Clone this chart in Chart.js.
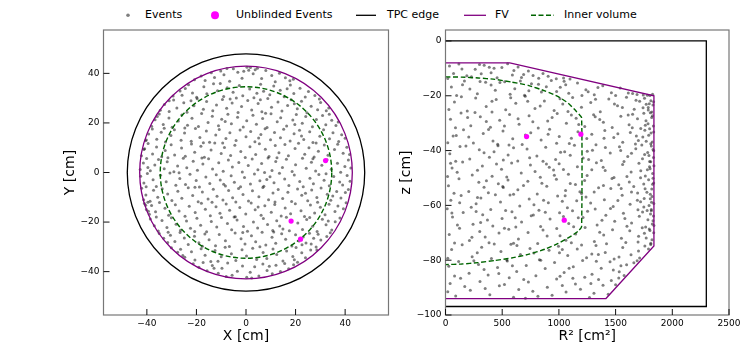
<!DOCTYPE html>
<html>
<head>
<meta charset="utf-8">
<script src="https://cdn.jsdelivr.net/npm/chart.js@4.4.1/dist/chart.umd.min.js"></script>
<style>
  body { margin: 0; background: #fff; width: 747px; height: 349px; overflow: hidden; position: relative; }
  canvas { position: absolute; top: 0; }
  #left { left: 0; }
  #right { left: 380px; }
  #legend { position: absolute; left: 0; top: 0; }
  #legend text { font: 11px 'DejaVu Sans', sans-serif; fill: #000; }
</style>
</head>
<body>
<svg id="legend" width="747" height="30">
  <circle cx="128" cy="15.3" r="1.8" fill="rgba(0,0,0,0.5)"></circle>
  <text x="145" y="18">Events</text>
  <circle cx="215" cy="15.3" r="4" fill="#ff00ff"></circle>
  <text x="236" y="18">Unblinded Events</text>
  <line x1="356" y1="15.3" x2="376" y2="15.3" stroke="#000" stroke-width="1.3"></line>
  <text x="387" y="18">TPC edge</text>
  <line x1="464" y1="15.3" x2="486" y2="15.3" stroke="#800080" stroke-width="1.3"></line>
  <text x="495" y="18">FV</text>
  <line x1="531" y1="15.3" x2="554" y2="15.3" stroke="#006400" stroke-width="1.4" stroke-dasharray="5,2.5"></line>
  <text x="564" y="18">Inner volume</text>
</svg>
<canvas id="left" width="395" height="349"></canvas>
<canvas id="right" width="367" height="349"></canvas>
<script>
// ---- left panel: X / Y of events [cm]
const eventsXY = [
[-20.8,37.4],[-18.1,38.9],[-16.5,37.1],[-14.0,40.2],[-12.7,38.3],[-10.2,41.0],[-8.9,39.4],[-6.6,36.8],[-5.1,41.9],[-3.3,40.5],[-1.6,38.0],[0.4,42.5],[1.1,41.3],[1.8,42.4],[2.9,39.8],[4.6,42.1],[6.3,37.9],[8.0,41.2],[10.4,39.1],[11.8,36.6],[13.5,40.0],[15.9,38.2],[17.7,37.0],[19.1,37.6],[-0.9,40.9],[3.7,41.5],[-7.7,42.0],
[-29.4,30.9],[-26.6,32.9],[-25.8,31.2],[-23.2,35.4],[-21.6,32.1],[-19.9,30.4],[-17.0,34.6],[-15.8,31.8],[-13.1,35.8],[-11.5,33.0],[-9.0,30.7],[-7.6,34.2],[-5.2,32.4],[-2.7,35.1],[-1.3,31.0],[1.5,33.7],[3.2,30.2],[5.9,35.6],[7.1,32.8],[9.6,31.4],[11.2,34.9],[13.8,33.2],[15.4,30.6],[17.9,35.3],[19.3,31.9],[21.8,34.0],[23.9,30.5],[25.2,32.7],[27.8,31.1],[-24.5,33.9],[-10.4,35.9],[4.4,32.0],[16.6,33.8],[-3.9,30.1],
[-34.6,25.1],[-32.9,27.4],[-31.0,24.6],[-29.2,29.3],[-27.9,26.0],[-25.1,28.1],[-23.8,24.3],[-21.0,26.9],[-19.7,29.8],[-17.2,25.5],[-15.9,28.6],[-13.4,24.9],[-11.9,27.2],[-9.5,29.5],[-7.8,25.9],[-5.6,28.0],[-3.2,24.2],[-1.8,26.6],[0.7,29.1],[2.3,25.2],[4.9,27.8],[6.4,24.5],[8.8,29.9],[10.3,26.3],[12.9,28.4],[14.5,24.8],[16.8,27.0],[18.2,29.4],[20.7,25.7],[22.4,28.8],[24.6,24.1],[26.3,26.7],[28.9,25.3],[30.1,28.2],[32.4,24.9],[33.4,26.0],[-31.0,29.0],[-22.2,29.0],[-6.4,29.7],[5.8,29.4],[19.5,27.7],[29.6,29.7],
[-38.1,18.7],[-36.7,21.3],[-35.0,23.6],[-33.4,19.4],[-31.1,22.0],[-29.8,18.3],[-27.3,20.8],[-25.9,23.2],[-23.6,19.1],[-21.8,21.9],[-19.2,18.6],[-17.9,23.8],[-15.3,20.2],[-13.6,22.7],[-11.1,18.9],[-9.8,21.5],[-7.3,23.5],[-5.9,19.7],[-3.4,22.3],[-1.1,18.4],[0.3,20.9],[2.8,23.1],[4.2,19.5],[6.7,21.8],[8.5,18.2],[10.1,23.7],[12.6,20.5],[14.0,22.1],[16.4,18.8],[18.9,21.2],[20.3,23.4],[22.7,19.9],[24.1,22.6],[26.8,18.5],[28.4,21.4],[30.9,23.0],[32.2,19.3],[34.6,21.1],[36.3,19.0],[37.2,20.4],[-35.8,22.6],[-24.7,18.0],[-8.4,20.6],[7.9,23.9],[19.7,19.4],[33.6,23.5],
[-40.6,12.8],[-39.3,15.5],[-37.8,17.6],[-36.0,13.4],[-34.2,16.2],[-32.5,12.3],[-30.3,14.9],[-28.9,17.3],[-26.2,13.0],[-24.8,15.9],[-22.1,12.6],[-20.4,17.8],[-18.6,14.1],[-16.0,16.7],[-14.7,12.2],[-12.2,15.1],[-10.8,17.4],[-8.1,13.7],[-6.5,16.0],[-4.0,12.9],[-2.4,17.1],[0.0,14.4],[1.9,16.5],[3.6,12.4],[6.0,15.3],[7.7,17.7],[9.9,13.2],[11.5,16.1],[13.9,14.0],[15.2,17.5],[17.8,12.7],[19.4,15.6],[21.6,17.0],[23.3,13.3],[25.7,16.4],[27.0,12.1],[29.8,14.6],[31.3,17.2],[33.7,13.6],[35.1,16.0],[37.4,12.5],[38.6,15.2],[40.0,13.8],[-40.2,13.1],[-33.0,17.9],[-17.2,12.0],[5.1,13.9],[22.4,14.7],
[-42.2,6.8],[-40.9,9.6],[-39.5,11.7],[-37.7,7.5],[-36.1,10.3],[-34.0,6.4],[-32.6,8.9],[-30.2,11.2],[-28.8,7.1],[-26.0,9.9],[-24.5,6.6],[-22.0,11.5],[-20.7,8.2],[-18.2,10.6],[-16.8,6.2],[-14.1,9.1],[-12.6,11.9],[-10.0,7.7],[-8.7,10.1],[-6.2,6.9],[-4.5,11.0],[-2.1,8.5],[-0.3,6.1],[1.6,10.4],[3.9,7.3],[5.4,11.6],[7.8,9.4],[9.3,6.5],[11.8,10.9],[13.3,8.0],[15.7,11.3],[17.1,6.8],[19.8,9.7],[21.2,11.8],[23.7,7.4],[25.4,10.0],[27.5,6.3],[29.2,8.6],[31.6,11.1],[33.1,7.0],[35.7,9.3],[37.0,11.4],[39.2,7.8],[40.7,10.2],[41.8,7.3],[-41.2,9.3],[-31.5,6.0],[-9.4,11.9],[12.5,6.0],[28.3,11.9],
[-42.7,1.2],[-41.4,3.8],[-40.1,5.6],[-38.6,0.7],[-36.8,3.0],[-35.3,5.2],[-33.0,1.5],[-31.8,4.3],[-29.1,0.3],[-27.6,2.6],[-25.3,5.8],[-23.9,1.9],[-21.3,4.5],[-19.6,0.9],[-17.4,3.4],[-15.1,5.5],[-13.5,1.4],[-11.0,3.9],[-9.2,0.5],[-7.1,5.0],[-5.5,2.2],[-2.9,4.0],[-1.5,0.2],[0.9,2.8],[2.5,5.4],[4.8,1.1],[6.3,3.6],[8.9,5.9],[10.5,0.8],[12.0,4.4],[14.7,2.0],[16.3,5.3],[18.6,0.4],[20.0,3.1],[22.8,5.7],[24.3,1.7],[26.4,4.1],[28.1,0.6],[30.6,2.9],[32.7,5.1],[34.4,1.3],[36.9,3.7],[38.2,0.1],[39.9,2.4],[41.3,5.0],[42.3,1.8],[-39.6,2.0],[-17.8,5.9],[7.5,0.0],[27.0,5.5],
[-42.5,-1.5],[-41.2,-4.2],[-39.8,-0.4],[-37.5,-2.9],[-36.2,-5.6],[-34.5,-1.1],[-32.2,-3.7],[-30.7,-0.2],[-28.3,-5.1],[-26.7,-2.4],[-24.4,-4.8],[-22.6,-0.7],[-20.1,-3.2],[-18.8,-5.9],[-16.2,-1.8],[-14.6,-4.4],[-12.0,-0.9],[-10.4,-3.0],[-8.3,-5.4],[-6.0,-1.3],[-4.7,-3.9],[-2.2,-5.8],[-0.6,-2.0],[1.8,-4.6],[3.4,-0.6],[5.6,-3.3],[7.2,-5.5],[9.7,-1.7],[11.3,-4.1],[13.5,-0.3],[15.6,-2.6],[17.3,-5.2],[19.5,-1.0],[21.7,-3.6],[23.1,-5.7],[25.8,-2.3],[27.2,-4.5],[29.4,-0.8],[31.5,-3.1],[33.6,-5.3],[35.4,-1.6],[37.8,-3.8],[39.0,-5.0],[40.8,-1.2],[42.0,-3.5],[-40.3,-5.7],[-27.0,-0.1],[-9.0,-4.7],[8.4,-2.8],[32.3,-0.5],
[-42.1,-6.4],[-40.4,-9.1],[-38.7,-11.6],[-37.3,-7.2],[-35.6,-10.0],[-33.8,-6.6],[-31.6,-8.7],[-29.9,-11.3],[-27.5,-7.6],[-25.9,-10.4],[-23.3,-6.2],[-21.5,-9.3],[-19.3,-11.8],[-17.6,-7.9],[-15.3,-10.7],[-13.2,-6.8],[-11.7,-9.6],[-9.3,-11.1],[-7.0,-7.3],[-5.4,-10.2],[-3.0,-6.5],[-1.2,-8.9],[1.0,-11.5],[2.6,-7.4],[5.2,-9.8],[6.8,-6.1],[9.1,-11.0],[10.9,-8.3],[13.0,-6.9],[14.8,-10.5],[16.9,-8.0],[18.4,-11.7],[20.8,-6.7],[22.5,-9.2],[24.9,-11.4],[26.5,-7.1],[28.6,-10.1],[30.3,-6.3],[32.8,-8.8],[34.2,-11.2],[36.6,-7.7],[38.3,-10.3],[40.1,-8.1],[41.3,-6.9],[-41.3,-11.0],[-20.6,-6.0],[-4.1,-11.9],[11.7,-11.9],[24.0,-8.4],[35.0,-9.5],
[-41.0,-12.5],[-40.2,-14.9],[-39.0,-16.8],[-38.1,-13.3],[-36.5,-15.8],[-34.9,-12.1],[-32.7,-14.4],[-31.2,-17.3],[-28.5,-13.0],[-27.0,-15.5],[-24.6,-17.7],[-22.9,-13.6],[-20.5,-16.1],[-18.0,-12.4],[-16.4,-14.8],[-14.4,-17.5],[-12.1,-13.8],[-10.5,-16.4],[-8.0,-12.7],[-6.6,-15.2],[-4.3,-17.9],[-2.5,-14.1],[-0.1,-16.7],[2.1,-12.3],[3.7,-15.0],[6.1,-17.2],[7.6,-13.4],[10.2,-16.0],[11.6,-12.9],[14.2,-17.6],[15.8,-14.3],[18.0,-16.6],[19.9,-12.6],[22.2,-15.4],[23.6,-17.8],[26.0,-13.1],[27.7,-16.3],[30.0,-14.0],[31.9,-17.0],[33.5,-12.8],[35.9,-15.7],[37.1,-13.5],[39.3,-14.6],[40.4,-12.2],[-39.4,-15.6],[-39.6,-12.0],[-40.5,-13.2],[-13.7,-12.0],[4.9,-13.9],[28.9,-12.0],
[-38.6,-18.8],[-37.0,-21.5],[-35.4,-23.6],[-33.9,-19.4],[-31.9,-22.2],[-30.1,-18.3],[-28.2,-20.9],[-26.4,-23.3],[-24.0,-19.6],[-22.4,-22.5],[-19.8,-18.5],[-18.3,-21.3],[-15.9,-23.9],[-14.0,-19.8],[-11.8,-22.0],[-9.9,-18.2],[-7.5,-20.6],[-5.8,-23.1],[-3.6,-19.2],[-1.0,-21.8],[0.6,-23.7],[3.0,-20.0],[4.7,-22.4],[7.0,-18.6],[8.7,-21.0],[10.8,-23.4],[12.4,-19.5],[14.9,-22.8],[16.3,-18.1],[20.9,-20.4],[22.8,-23.0],[24.5,-19.0],[26.9,-21.7],[28.7,-23.8],[30.8,-18.9],[32.3,-21.1],[34.6,-23.2],[36.0,-19.9],[37.9,-18.4],[-36.2,-18.0],[-20.7,-23.8],[-4.8,-18.0],[13.6,-21.6],[25.7,-18.2],[33.2,-19.6],[17.5,-23.5],
[-35.0,-24.6],[-33.2,-26.5],[-31.6,-28.2],[-30.5,-25.3],[-28.7,-27.8],[-26.6,-24.2],[-24.9,-26.4],[-23.3,-29.1],[-20.8,-25.7],[-19.0,-28.3],[-16.6,-24.8],[-14.9,-27.1],[-12.3,-29.6],[-10.8,-25.0],[-8.3,-27.5],[-6.7,-29.9],[-4.4,-24.4],[-2.0,-26.7],[-0.4,-28.9],[2.2,-25.5],[3.9,-27.9],[6.5,-24.1],[8.0,-29.3],[10.5,-26.1],[12.0,-28.5],[14.4,-24.7],[16.0,-26.9],[18.5,-29.7],[20.0,-25.1],[21.4,-27.6],[23.1,-26.0],[24.2,-28.4],[25.6,-24.5],[27.3,-26.5],[29.1,-24.9],[30.2,-27.2],[32.6,-25.8],[34.0,-24.3],[-31.4,-24.1],[-17.6,-29.8],[-1.3,-24.2],[11.2,-24.0],[26.3,-28.9],[22.6,-29.2],
[-30.1,-30.4],[-27.6,-32.2],[-26.4,-31.0],[-24.7,-34.2],[-22.0,-32.0],[-20.6,-35.3],[-18.1,-30.8],[-16.5,-33.4],[-14.2,-35.9],[-12.5,-31.5],[-10.0,-34.0],[-8.4,-30.2],[-5.9,-32.8],[-4.1,-35.5],[-1.6,-31.2],[0.2,-33.7],[2.7,-30.6],[4.3,-35.1],[6.9,-32.3],[8.4,-34.7],[10.9,-30.9],[12.4,-33.1],[14.9,-35.7],[16.4,-31.7],[18.9,-33.9],[20.2,-30.3],[22.5,-32.4],[24.0,-34.4],[26.1,-31.3],[28.3,-30.1],[28.6,-31.3],[-25.5,-33.5],[-11.3,-35.8],[5.6,-30.0],[19.5,-35.2],
[-21.3,-36.8],[-19.0,-38.2],[-17.3,-36.3],[-15.7,-39.6],[-13.6,-37.5],[-11.2,-40.7],[-9.7,-38.6],[-7.4,-36.5],[-5.6,-41.5],[-3.5,-39.8],[-1.4,-37.7],[0.3,-42.3],[1.7,-40.2],[3.5,-38.0],[5.2,-41.8],[6.8,-36.9],[8.5,-39.5],[10.6,-40.9],[12.1,-37.4],[13.9,-39.9],[15.6,-36.7],[17.2,-38.8],[19.2,-37.2],[20.8,-36.2],[-8.0,-42.0],[2.3,-42.6],[-12.9,-38.6],[9.4,-37.8]
];
const unblindedXY = [[32.1, 4.8], [18.2, -19.6], [22.0, -26.9]];
// TPC edge, FV, inner volume radii [cm]
const circleRadii = [47.9, 42.9, 34.6];

// ---- right panel: R^2 [cm^2] / z [cm]
const eventsR2z = [
[35,-9.1],[118,-8.4],[262,-10.3],[188,-12.7],[341,-8.9],[402,-11.6],[497,-9.7],[455,-13.4],[603,-10.8],[548,-8.3],[689,-12.2],[731,-11.0],[822,-13.6],[905,-12.9],[977,-13.8],[1041,-13.5],[640,-9.5],[71,-11.9],[229,-13.1],[315,-12.0],[386,-9.6],[590,-12.4],[772,-12.6],[145,-10.2],[860,-11.9],[428,-10.0],[1098,-13.9],[20,-13.7],[670,-13.3],[300,-8.6],
[52,-16.8],[167,-14.6],[281,-19.3],[354,-15.1],[439,-18.0],[522,-14.9],[611,-17.4],[697,-19.8],[758,-15.6],[846,-18.6],[933,-14.4],[1012,-16.9],[1087,-19.1],[1164,-15.3],[1238,-17.8],[1312,-19.6],[1387,-16.3],[1463,-18.9],[1541,-17.2],[1612,-19.0],[1689,-19.5],[1744,-19.7],[1803,-19.9],[1826,-19.4],[98,-19.9],[215,-17.5],[402,-16.1],[570,-19.4],[889,-16.7],[1046,-14.7],[1203,-19.9],[1344,-17.0],[1500,-19.9],[735,-18.2],[1650,-19.2],[1780,-19.8],[480,-15.2],[980,-18.4],
[79,-22.3],[192,-25.6],[266,-20.8],[359,-23.9],[447,-21.4],[531,-25.1],[620,-22.7],[703,-20.2],[789,-24.6],[872,-21.9],[958,-25.4],[1034,-23.0],[1121,-20.6],[1199,-24.2],[1281,-22.5],[1365,-25.8],[1440,-21.2],[1517,-23.6],[1596,-20.5],[1664,-24.9],[1712,-22.0],[1755,-20.9],[1788,-25.2],[1811,-21.8],[1829,-23.4],[1797,-22.9],[1742,-24.4],[1680,-21.6],[1820,-25.9],[30,-25.0],[140,-20.4],[410,-25.9],[575,-20.7],[835,-23.7],[1080,-25.7],[1323,-21.3],[1560,-24.3],[1770,-23.1],[1835,-22.2],
[44,-28.6],[137,-26.3],[223,-30.9],[307,-27.7],[396,-31.5],[478,-28.9],[565,-26.8],[649,-30.4],[737,-27.3],[818,-31.8],[901,-29.2],[985,-26.5],[1066,-30.0],[1152,-28.2],[1228,-31.2],[1306,-26.9],[1392,-29.7],[1470,-31.6],[1546,-27.5],[1619,-30.6],[1693,-28.4],[1749,-26.4],[1786,-30.2],[1818,-27.9],[1833,-31.0],[1768,-29.1],[1722,-31.9],[1806,-26.2],[88,-31.7],[260,-26.1],[520,-31.0],[770,-29.5],[1110,-27.0],[1360,-28.7],[1650,-26.7],[1800,-32.0],[360,-29.4],[940,-27.9],
[67,-34.7],[159,-32.4],[246,-37.2],[333,-33.8],[419,-36.5],[507,-32.9],[593,-35.7],[676,-37.8],[752,-33.5],[843,-36.1],[918,-32.2],[1003,-34.9],[1092,-37.4],[1168,-33.1],[1246,-35.6],[1327,-37.9],[1405,-32.7],[1484,-35.2],[1563,-37.0],[1630,-33.4],[1701,-36.3],[1758,-32.6],[1792,-34.4],[1823,-36.9],[1836,-33.2],[1810,-37.5],[1740,-35.0],[1675,-37.6],[20,-37.1],[205,-35.0],[460,-37.7],[705,-34.3],[980,-37.3],[1290,-34.0],[1520,-33.9],[1770,-36.6],[1110,-35.5],[380,-32.3],
[38,-41.2],[128,-38.5],[214,-43.1],[298,-39.7],[387,-42.4],[463,-38.2],[552,-41.6],[637,-43.8],[719,-39.4],[806,-42.0],[884,-38.8],[971,-43.3],[1051,-40.4],[1137,-38.1],[1214,-42.7],[1296,-39.9],[1374,-43.6],[1453,-40.9],[1534,-38.6],[1607,-42.2],[1678,-39.3],[1737,-43.0],[1783,-40.7],[1815,-38.3],[1834,-42.5],[1800,-44.0],[1756,-41.4],[90,-43.9],[340,-40.8],[600,-39.0],[860,-43.9],[1100,-41.7],[1410,-38.9],[1640,-41.0],[1830,-39.6],[510,-43.4],[1250,-40.2],
[58,-46.4],[151,-44.2],[236,-48.9],[325,-45.6],[411,-49.4],[494,-46.8],[583,-44.5],[668,-48.2],[749,-45.3],[836,-49.7],[915,-46.1],[1002,-44.8],[1084,-48.6],[1163,-45.9],[1249,-49.1],[1331,-44.4],[1408,-47.3],[1486,-49.8],[1562,-45.1],[1637,-47.8],[1706,-44.6],[1762,-49.3],[1804,-46.6],[1827,-48.4],[1838,-45.5],[1780,-47.0],[1720,-49.9],[18,-49.5],[282,-47.2],[540,-49.6],[790,-47.6],[1040,-46.9],[1290,-47.0],[1600,-49.5],[1810,-44.1],[450,-44.9],[960,-49.0],
[26,-52.8],[119,-50.3],[205,-54.9],[294,-51.6],[378,-55.4],[466,-52.1],[551,-50.7],[638,-54.3],[726,-51.2],[809,-55.8],[893,-53.0],[978,-50.5],[1059,-54.6],[1146,-52.4],[1227,-50.9],[1311,-55.1],[1393,-52.7],[1468,-50.2],[1549,-53.8],[1621,-51.5],[1694,-55.5],[1748,-52.2],[1791,-50.6],[1819,-54.0],[1836,-51.8],[1806,-55.9],[1760,-53.9],[75,-55.6],[340,-53.4],[600,-55.9],[850,-51.9],[1100,-52.0],[1350,-53.6],[1660,-53.1],[1830,-50.1],[510,-53.5],[1200,-55.7],
[47,-58.1],[138,-56.4],[227,-60.7],[312,-57.3],[399,-61.5],[485,-58.8],[569,-56.2],[655,-60.2],[738,-57.7],[824,-61.8],[907,-59.0],[989,-56.6],[1075,-60.9],[1157,-58.3],[1239,-56.9],[1320,-61.3],[1401,-57.9],[1479,-60.4],[1558,-56.3],[1628,-59.6],[1697,-61.6],[1752,-57.5],[1795,-60.0],[1822,-56.8],[1837,-59.3],[1778,-61.9],[1720,-58.7],[15,-61.2],[270,-59.4],[530,-61.9],[780,-59.8],[1030,-58.5],[1280,-59.1],[1520,-58.2],[1815,-61.5],[440,-56.1],[1120,-62.0],
[62,-64.2],[156,-62.6],[243,-66.9],[328,-63.4],[417,-67.5],[499,-64.8],[586,-62.3],[671,-66.1],[756,-63.8],[839,-67.7],[922,-65.0],[1006,-62.7],[1087,-66.6],[1171,-64.5],[1253,-62.1],[1337,-67.2],[1414,-63.6],[1492,-65.8],[1569,-62.9],[1641,-66.4],[1709,-64.0],[1765,-67.9],[1808,-63.1],[1830,-65.6],[1838,-67.3],[1785,-65.2],[1738,-62.4],[105,-67.2],[370,-65.3],[620,-67.9],[880,-62.5],[1130,-67.8],[1380,-65.4],[1600,-67.6],[1815,-62.0],[270,-62.2],[1040,-64.1],
[33,-70.6],[124,-68.3],[211,-72.8],[302,-69.5],[384,-73.6],[472,-70.1],[558,-68.7],[643,-72.3],[728,-69.9],[813,-73.9],[896,-71.2],[981,-68.4],[1062,-72.7],[1148,-70.4],[1231,-68.1],[1313,-73.2],[1395,-70.8],[1473,-68.9],[1551,-72.0],[1625,-69.3],[1698,-73.4],[1754,-70.2],[1797,-68.6],[1821,-72.5],[1836,-70.0],[1810,-73.8],[1770,-71.9],[80,-73.7],[350,-71.5],[600,-73.8],[860,-69.0],[1110,-73.6],[1360,-69.8],[1590,-73.5],[1735,-68.2],[520,-68.3],[1010,-71.1],
[54,-76.1],[147,-74.4],[235,-78.7],[319,-75.3],[405,-79.4],[489,-76.8],[577,-74.2],[661,-77.9],[745,-75.7],[828,-79.8],[913,-76.4],[996,-74.9],[1078,-78.3],[1162,-75.9],[1244,-79.1],[1327,-74.6],[1409,-77.2],[1487,-79.6],[1563,-75.4],[1636,-78.0],[1702,-76.6],[1758,-74.8],[1790,-75.9],[1712,-79.2],[20,-79.3],[280,-77.3],[540,-79.9],[780,-77.4],[1030,-76.1],[1290,-77.7],[1530,-78.8],[1810,-74.3],[430,-74.1],[1200,-74.5],
[29,-82.2],[116,-80.5],[208,-84.8],[291,-81.6],[376,-85.4],[459,-82.7],[545,-80.3],[628,-84.1],[712,-81.9],[797,-85.7],[879,-83.0],[962,-80.8],[1046,-84.5],[1127,-82.4],[1209,-80.1],[1292,-85.1],[1373,-82.9],[1451,-80.6],[1532,-84.2],[1597,-81.7],[1661,-80.9],[1575,-85.6],[80,-85.8],[340,-83.4],[590,-82.0],[840,-80.0],[1090,-82.9],[1330,-80.4],[1480,-83.6],[1690,-80.2],[250,-80.2],[1010,-85.9],
[41,-88.5],[133,-86.6],[219,-91.0],[304,-87.8],[391,-92.6],[475,-89.3],[562,-86.4],[646,-90.7],[731,-88.0],[815,-93.2],[898,-89.9],[980,-86.9],[1063,-91.6],[1146,-88.7],[1228,-86.2],[1309,-92.1],[1389,-89.1],[1462,-87.4],[1528,-86.5],[1435,-92.4],[90,-93.1],[170,-89.6],[350,-90.3],[600,-93.5],[690,-87.0],[940,-92.8],[1190,-90.6],[1350,-87.0],[20,-91.5],[520,-88.9],[1030,-89.2],[1270,-93.6],[1500,-89.0],[770,-91.3],
[1825,-27.3],[1812,-33.6],[1836,-40.1],[1799,-45.9],[1826,-52.3],[1817,-58.9],[1834,-63.9],[1803,-69.2],[1788,-24.3],[1762,-30.8],[1731,-38.0],[1794,-41.8],[1776,-55.2],[1749,-60.6],[1824,-66.8],[1683,-34.7],[1611,-27.0],[1574,-44.0],[1528,-52.5],[1455,-61.1],[1398,-35.5],[1262,-43.3],[1185,-55.0],[1015,-40.6],[953,-47.1],[865,-58.1],[742,-42.6],[688,-52.7],[615,-64.5],[428,-40.4],[361,-51.0],[282,-57.1],[180,-38.3],[103,-47.9],[56,-62.8],[233,-71.6],[470,-84.9],[705,-93.9],[1123,-86.6],[1348,-77.9],[1420,-74.0],[1582,-64.8],[1692,-58.1],[1722,-47.4],[1647,-31.7],[1490,-23.0],[1258,-18.5],[1060,-16.0],[820,-15.8],[660,-14.6],[305,-14.8],[150,-16.0],[410,-22.0],[640,-28.4],[905,-34.0],[1175,-30.5],[1390,-46.1],[1640,-55.1],[1703,-71.3],[1547,-82.0],[1282,-88.5],[1005,-77.3],[630,-74.6],[310,-66.2],[125,-59.0],[45,-44.6],[505,-53.1],[775,-63.5],[1055,-56.5],[1213,-64.4],[1458,-53.8],[1320,-27.7],[1010,-21.1],[725,-22.0],[195,-27.9],[95,-34.5],[560,-38.0],[890,-44.9],[1545,-40.0],[1806,-57.6]
];
const unblindedR2z = [[715, -34.9], [1194, -34.0], [1047, -65.4]];
const tpcEdgeR2z = [[0, 0], [2300, 0], [2300, -96.9], [0, -96.9]];
const fvR2z = [[0, -8], [567, -8], [1838, -20], [1838, -74.8], [1415, -94], [0, -94]];
const innerR2z = [[0, -13.1], [141, -13.2], [288, -13.5], [435, -14.0], [583, -15.0], [729, -16.2], [876, -18.2],
  [994, -20.3], [1082, -22.7], [1156, -25.8], [1200, -28.0], [1200, -67.8], [1170, -69.4], [1112, -71.1], [994, -73.9],
  [876, -76.0], [729, -77.9], [583, -79.2], [435, -80.1], [288, -80.9], [141, -81.4], [0, -81.6]];

const colEvents = 'rgba(0,0,0,0.5)';
const colUnblinded = '#ff00ff';
const colTPC = '#000000';
const colFV = '#800080';
const colInner = '#006400';
const circleColors = [colTPC, colFV, colInner];
const circleDash = [[], [], [5, 2.5]];

const FONT = "'DejaVu Sans', sans-serif";
const pts = (arr) => arr.map(p => ({ x: p[0], y: p[1] }));
const minus = (v) => String(v).replace('-', '\u2212');

// full box + inward ticks on bottom/left
const framePlugin = {
  id: 'frame',
  afterDraw(chart) {
    const { ctx, chartArea: a, scales } = chart;
    ctx.save();
    ctx.strokeStyle = '#777';
    ctx.lineWidth = 1.2;
    ctx.strokeRect(a.left, a.top, a.right - a.left, a.bottom - a.top);
    ctx.strokeStyle = '#111';
    ctx.lineWidth = 1;
    ctx.beginPath();
    scales.x.ticks.forEach(t => {
      const px = scales.x.getPixelForValue(t.value);
      ctx.moveTo(px, a.bottom); ctx.lineTo(px, a.bottom - 6);
    });
    scales.y.ticks.forEach(t => {
      const py = scales.y.getPixelForValue(t.value);
      ctx.moveTo(a.left, py); ctx.lineTo(a.left + 6, py);
    });
    ctx.stroke();
    ctx.restore();
  }
};

// detector circles drawn right after the grey events
const circlePlugin = {
  id: 'circles',
  afterDatasetDraw(chart, args) {
    if (args.index !== 1) return;
    const { ctx, chartArea: a, scales: { x, y } } = chart;
    const cx = x.getPixelForValue(0), cy = y.getPixelForValue(0);
    ctx.save();
    ctx.beginPath();
    ctx.rect(a.left, a.top, a.right - a.left, a.bottom - a.top);
    ctx.clip();
    circleRadii.forEach((r, i) => {
      const rx = x.getPixelForValue(r) - cx;
      const ry = cy - y.getPixelForValue(r);
      ctx.beginPath();
      ctx.ellipse(cx, cy, rx, ry, 0, 0, Math.PI * 2);
      ctx.strokeStyle = circleColors[i];
      ctx.lineWidth = i === 2 ? 1.4 : 1.3;
      ctx.setLineDash(circleDash[i]);
      ctx.stroke();
    });
    ctx.restore();
  }
};

function axis(min, max, step, title, fitSize, horizontal) {
  return {
    type: 'linear', min: min, max: max,
    grid: { display: false, drawTicks: false },
    border: { display: false },
    title: { display: true, text: title, color: '#000', font: { family: FONT, size: 14 } },
    ticks: {
      stepSize: step, includeBounds: false, autoSkip: false, maxRotation: 0,
      color: '#000', padding: horizontal ? 3 : 4,
      font: { family: FONT, size: 9 },
      callback: (v) => minus(v)
    },
    afterFit: (s) => { if (horizontal) s.height = fitSize; else s.width = fitSize; }
  };
}

const baseOpts = {
  responsive: false, animation: false, devicePixelRatio: 1,
  events: [],
  plugins: { legend: { display: false }, tooltip: { enabled: false } }
};

new Chart(document.getElementById('left'), {
  type: 'scatter',
  data: {
    datasets: [
      { label: 'Unblinded Events', data: pts(unblindedXY), backgroundColor: colUnblinded, pointRadius: 2.6, borderWidth: 0 },
      { label: 'Events', data: pts(eventsXY), backgroundColor: colEvents, pointRadius: 1.5, borderWidth: 0 }
    ]
  },
  options: Object.assign({}, baseOpts, {
    layout: { padding: { left: 58, top: 30, right: 6.5, bottom: 0 } },
    scales: {
      x: axis(-57.5, 57.5, 20, 'X [cm]', 34, true),
      y: axis(-57.5, 57.5, 20, 'Y [cm]', 45.5, false)
    }
  }),
  plugins: [circlePlugin, framePlugin]
});

new Chart(document.getElementById('right'), {
  type: 'scatter',
  data: {
    datasets: [
      { label: 'Unblinded Events', data: pts(unblindedR2z), backgroundColor: colUnblinded, pointRadius: 2.6, borderWidth: 0 },
      { label: 'Inner volume', data: pts(innerR2z), showLine: true, pointRadius: 0, borderColor: colInner, borderWidth: 1.4, borderDash: [5, 2.5], tension: 0.15 },
      { label: 'FV', data: pts(fvR2z), showLine: true, pointRadius: 0, borderColor: colFV, borderWidth: 1.3, tension: 0 },
      { label: 'TPC edge', data: pts(tpcEdgeR2z), showLine: true, pointRadius: 0, borderColor: colTPC, borderWidth: 1.3, tension: 0 },
      { label: 'Events', data: pts(eventsR2z), backgroundColor: colEvents, pointRadius: 1.5, borderWidth: 0 }
    ]
  },
  options: Object.assign({}, baseOpts, {
    layout: { padding: { left: 13.6, top: 30, right: 18, bottom: 0 } },
    scales: {
      x: axis(0, 2500, 500, 'R\u00b2 [cm\u00b2]', 34, true),
      y: axis(-100, 4, 20, 'z [cm]', 51.9, false)
    }
  }),
  plugins: [framePlugin]
});
</script>
</body>
</html>
